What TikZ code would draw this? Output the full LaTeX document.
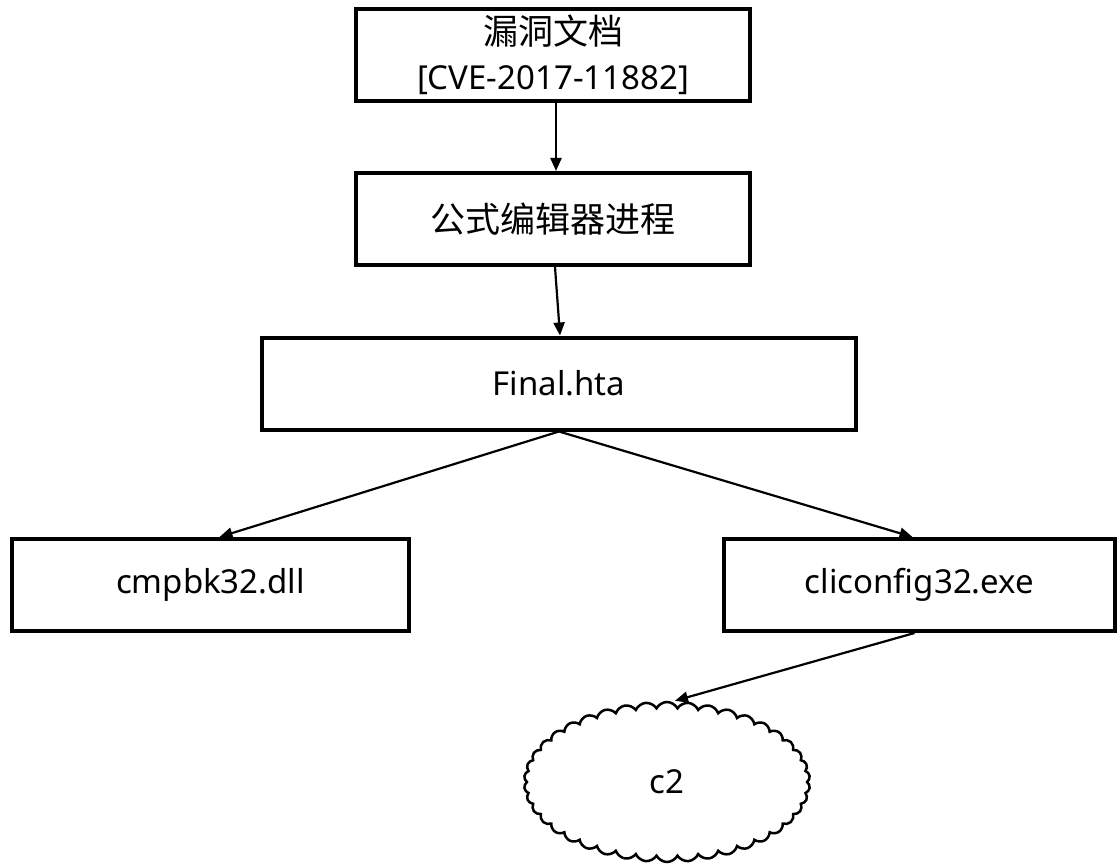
\documentclass[tikz,border=0pt]{standalone}
\usepackage{fontspec}
\setmainfont{Noto Sans}
\newfontfamily\cjk{Noto Sans CJK SC}
\usetikzlibrary{shapes.symbols,arrows.meta}
\begin{document}
\begin{tikzpicture}[x=1pt,y=-1pt,
  box/.style={draw,line width=4pt,rectangle,minimum height=92pt,inner sep=0pt,align=center,font=\fontsize{33}{45}\selectfont},
  arr/.style={line width=2.2pt,-{Triangle[length=13pt,width=11pt]}}]
\useasboundingbox (0,0) rectangle (1119,864);
\node[box,minimum width=394pt] (b1) at (553,55) {{\cjk\fontsize{35}{46}\selectfont 漏洞文档}\\{[}CVE-2017-11882{]}};
\node[box,minimum width=394pt] (b2) at (553,219) {\cjk\fontsize{35}{45}\selectfont 公式编辑器进程};
\node[box,minimum width=594pt] (b3) at (559,383.5) {Final.hta};
\node[box,minimum width=397pt] (b4) at (210.5,585) {cmpbk32.dll};
\node[box,minimum width=391pt] (b5) at (919.5,585) {cliconfig32.exe};
\node[draw,cloud,cloud puffs=42,cloud puff arc=125,line width=2.5pt,minimum width=286pt,minimum height=160pt,inner sep=0pt,font=\fontsize{33}{40}\selectfont] (c2) at (667,782) {c2};
\draw[arr] ([xshift=3pt]b1.south) -- ([xshift=3pt]b2.north);
\draw[arr] ([xshift=2pt]b2.south) -- ([xshift=1pt]b3.north);
\draw[arr] (b3.south) -- ([xshift=9pt]b4.north);
\draw[arr] (b3.south) -- ([xshift=-7pt]b5.north);
\draw[arr] ([xshift=-5pt]b5.south) -- ([xshift=8pt]c2.north);
\end{tikzpicture}
\end{document}
